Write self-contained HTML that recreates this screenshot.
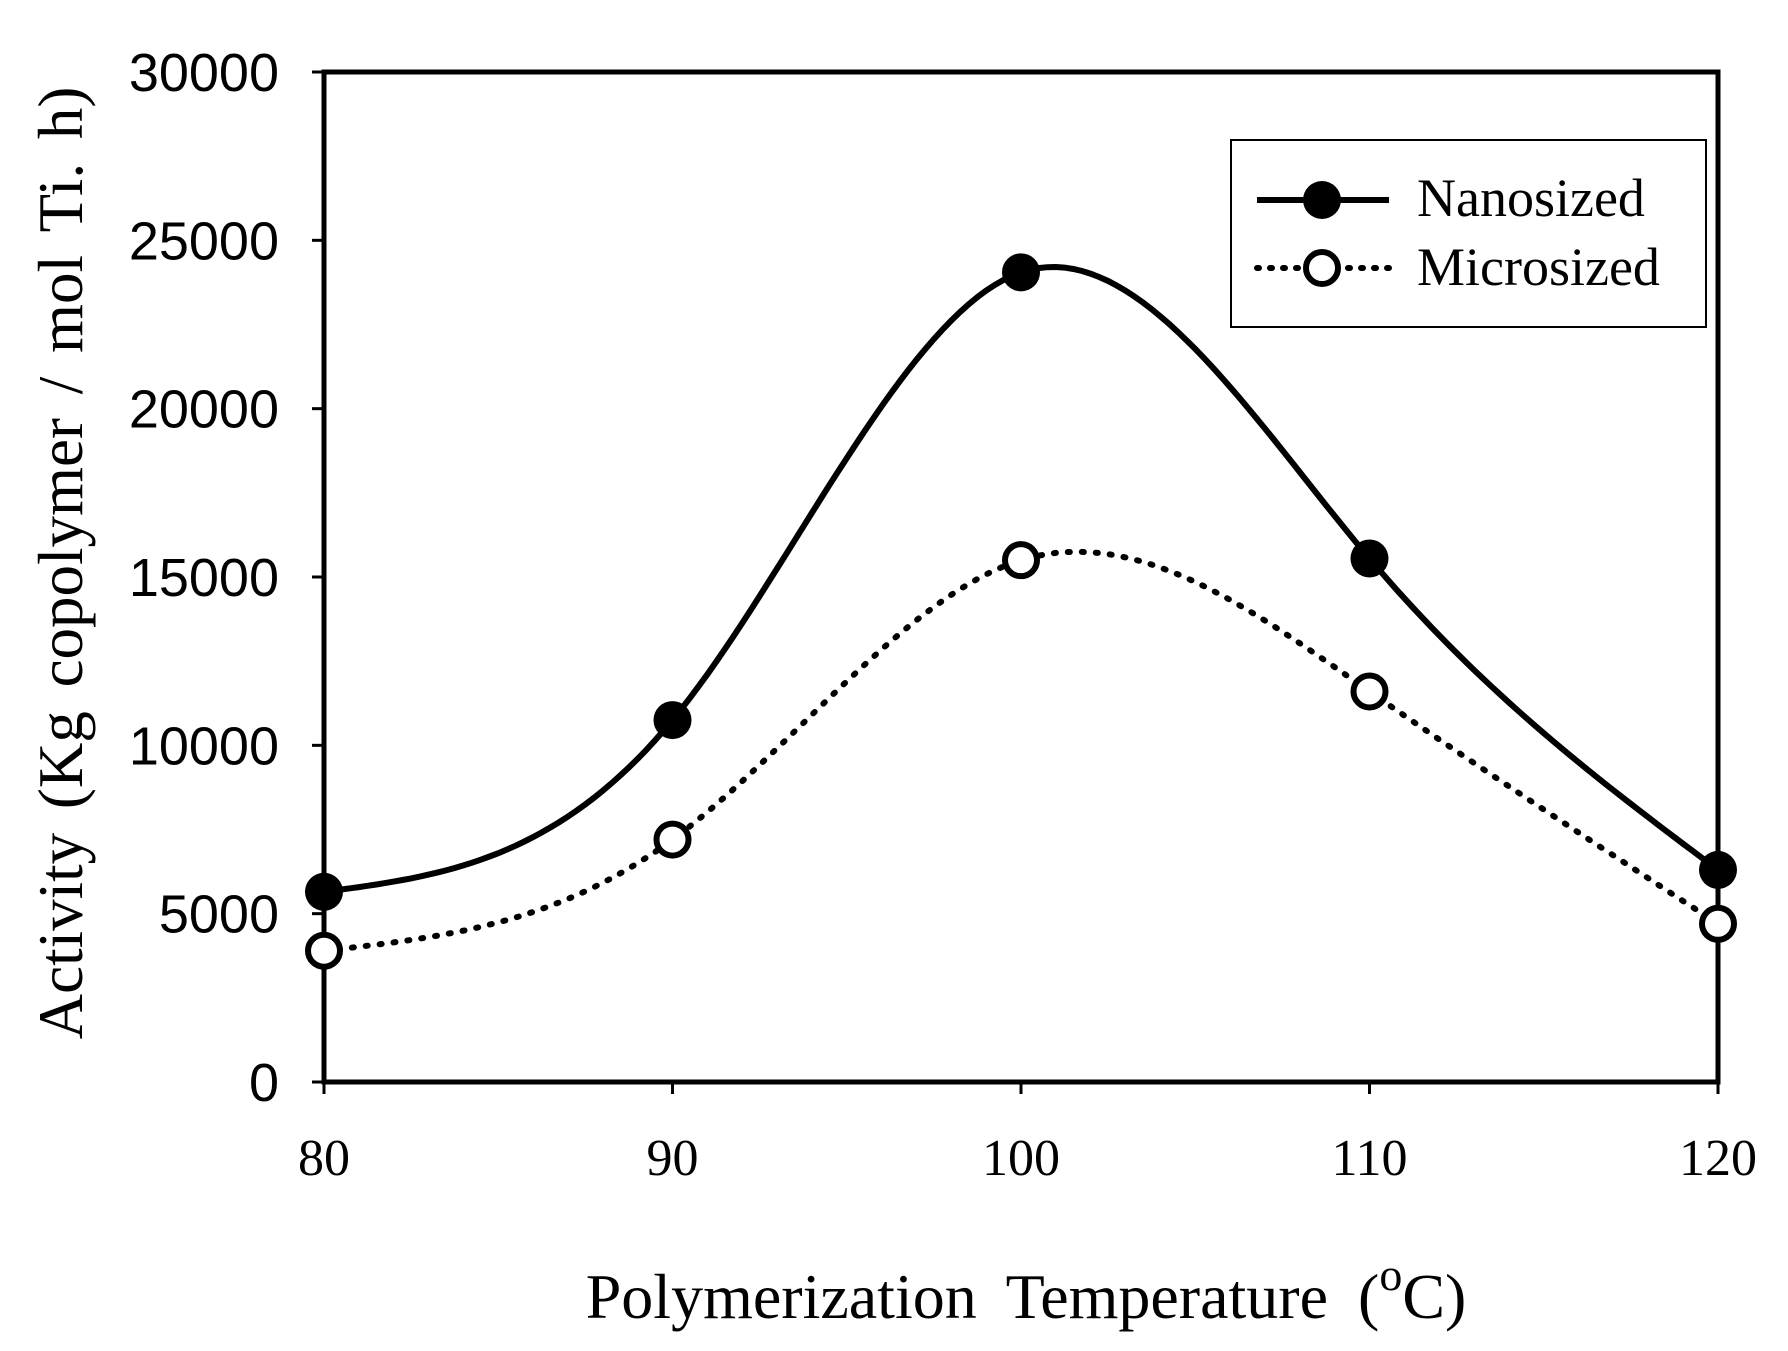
<!DOCTYPE html>
<html><head><meta charset="utf-8"><style>
html,body{margin:0;padding:0;background:#fff;}
svg{display:block;}
</style></head><body>
<svg id="chart" width="1788" height="1351" viewBox="0 0 1788 1351" xmlns="http://www.w3.org/2000/svg">
<g id="axes"></g>
<g id="series"></g>
<g id="legend" transform="translate(-7,0)">
  <rect x="1238" y="140" width="475" height="187" fill="#fff" stroke="#000" stroke-width="2"/>
  <g>
    <line x1="1264" y1="200" x2="1396" y2="200" stroke="#000" stroke-width="6"/>
    <circle cx="1329" cy="200" r="19" fill="#000"/>
    <text x="1424" y="216" font-family="Liberation Serif, serif" font-size="54">Nanosized</text>
  </g>
  <g>
    <line x1="1264" y1="268" x2="1396" y2="268" stroke="#000" stroke-width="6" stroke-dasharray="2 11" stroke-linecap="round"/>
    <circle cx="1329" cy="268" r="16" fill="#fff" stroke="#000" stroke-width="6"/>
    <text x="1424" y="285" font-family="Liberation Serif, serif" font-size="54">Microsized</text>
  </g>
</g>
<text x="1026" y="1318" text-anchor="middle" font-family="Liberation Serif, serif" font-size="64" word-spacing="14">Polymerization Temperature (<tspan dy="-28" font-size="46">o</tspan><tspan dy="28">C)</tspan></text>
<text transform="translate(82,563) rotate(-90)" text-anchor="middle" font-family="Liberation Serif, serif" font-size="63" word-spacing="8">Activity  (Kg copolymer / mol Ti. h)</text>
</svg>
<script>
const categories = [80, 90, 100, 110, 120];
const nanoValues = [5650, 10750, 24050, 15550, 6300];
const microValues = [3900, 7200, 15500, 11600, 4700];
const yTicks = [0, 5000, 10000, 15000, 20000, 25000, 30000];
const xTicks = [80, 90, 100, 110, 120];

const L=324,R=1718,T=72,B=1082;
const xs=v=>L+(v-80)/40*(R-L);
const ys=v=>B-v/30000*(B-T);
const NS="http://www.w3.org/2000/svg";
function mk(tag,attrs,parent){const e=document.createElementNS(NS,tag);for(const k in attrs)e.setAttribute(k,attrs[k]);parent.appendChild(e);return e;}
const axes=document.getElementById('axes');
const frame=mk('rect',{x:L,y:T,width:R-L,height:B-T,fill:'none',stroke:'#000','stroke-width':5},axes);


yTicks.forEach(v=>{
  const y=ys(v);
  mk('line',{x1:L-12,y1:y,x2:L,y2:y,stroke:'#000','stroke-width':3},axes);
  const t=mk('text',{x:279,y:y+19,'text-anchor':'end','font-family':'Liberation Sans, sans-serif','font-size':54},axes);
  t.textContent=v;
  
  
});
xTicks.forEach(v=>{
  const x=xs(v);
  mk('line',{x1:x,y1:B,x2:x,y2:B+12,stroke:'#000','stroke-width':3},axes);
  const t=mk('text',{x:x,y:1175,'text-anchor':'middle','font-family':'Liberation Serif, serif','font-size':52},axes);
  t.textContent=v;
  
  
});
function naturalSpline(xv,yv){
  const n=xv.length,h=[],al=[0],l=[1],mu=[0],z=[0],c=new Array(n).fill(0),b=[],d=[];
  for(let i=0;i<n-1;i++)h.push(xv[i+1]-xv[i]);
  for(let i=1;i<n-1;i++)al.push(3/h[i]*(yv[i+1]-yv[i])-3/h[i-1]*(yv[i]-yv[i-1]));
  for(let i=1;i<n-1;i++){l[i]=2*(xv[i+1]-xv[i-1])-h[i-1]*mu[i-1];mu[i]=h[i]/l[i];z[i]=(al[i]-h[i-1]*z[i-1])/l[i];}
  l[n-1]=1;z[n-1]=0;
  for(let j=n-2;j>=0;j--){c[j]=z[j]-mu[j]*c[j+1];b[j]=(yv[j+1]-yv[j])/h[j]-h[j]*(c[j+1]+2*c[j])/3;d[j]=(c[j+1]-c[j])/(3*h[j]);}
  return x=>{let j=Math.min(n-2,Math.max(0,xv.findIndex((v,i)=>i<n-1&&x<=xv[i+1])));const dx=x-xv[j];return yv[j]+b[j]*dx+c[j]*dx*dx+d[j]*dx*dx*dx;};
}
function pathFor(vals){
  const f=naturalSpline(categories,vals);let d='';
  for(let x=80;x<=120.0001;x+=0.25){d+=(d?' L':'M')+xs(x).toFixed(1)+','+ys(f(x)).toFixed(1);}
  return d;
}
const series=document.getElementById('series');
const lm=mk('path',{d:pathFor(microValues),fill:'none',stroke:'#000','stroke-width':6,'stroke-dasharray':'2 12','stroke-linecap':'round'},series);


const ln=mk('path',{d:pathFor(nanoValues),fill:'none',stroke:'#000','stroke-width':6},series);


microValues.forEach((v,i)=>{
  const c=mk('circle',{cx:xs(categories[i]),cy:ys(v),r:16,fill:'#fff',stroke:'#000','stroke-width':6},series);
  
  
});
nanoValues.forEach((v,i)=>{
  const c=mk('circle',{cx:xs(categories[i]),cy:ys(v),r:19,fill:'#000'},series);
  
  
});
</script>
</body></html>
